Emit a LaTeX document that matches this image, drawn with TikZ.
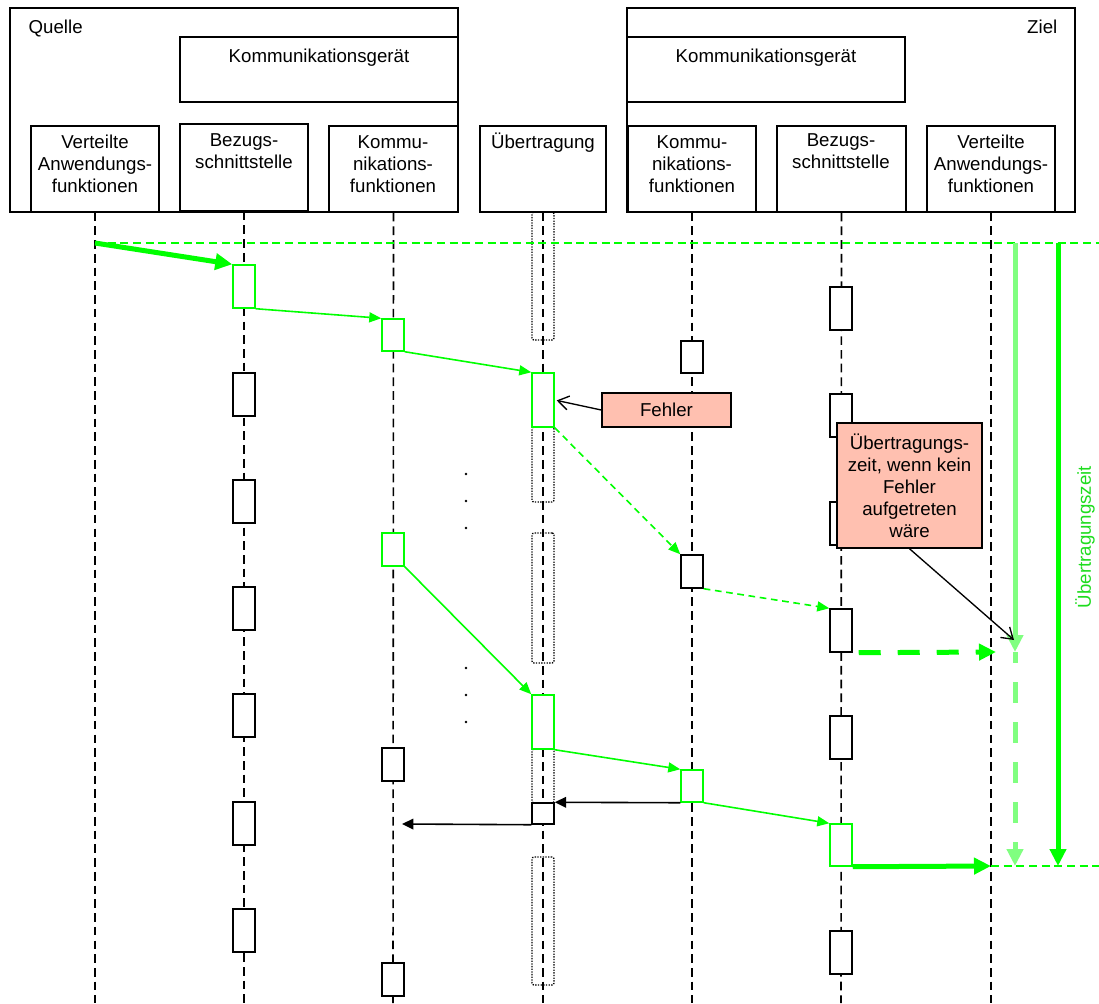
\documentclass[tikz,border=0pt]{standalone}
\usepackage{fontspec}
\setmainfont{Liberation Sans}
\usetikzlibrary{arrows.meta,fit}
\definecolor{gr}{RGB}{0,255,0}
\definecolor{lgr}{RGB}{128,255,128}
\definecolor{tgr}{RGB}{30,220,30}
\definecolor{salmon}{RGB}{255,192,176}

\begin{document}
\begin{tikzpicture}[x=0.75pt,y=-0.75pt,
  font=\fontsize{14pt}{16.5pt}\selectfont,
  frame/.style={draw, line width=0.8pt, inner sep=0pt},
  head/.style={draw, fill=white, line width=1pt, inner sep=0pt},
  headtext/.style={anchor=north, align=center, inner sep=0pt},
  life/.style={line width=1.2pt, dash pattern=on 6.5pt off 3.8pt},
  act/.style={draw, fill=white, line width=1.1pt, inner sep=0pt},
  actg/.style={act, draw=gr},
  slot/.style={draw, line width=1pt, dash pattern=on 1pt off 1pt, rounded corners=1.5pt, inner sep=0pt},
  msg/.style={draw=gr, line width=1.2pt, -{Triangle[length=9pt,width=7.5pt,fill=gr]}},
  msgd/.style={msg, dash pattern=on 5pt off 3.5pt},
  big/.style={draw=gr, line width=3.75pt, -{Triangle[length=12.75pt,width=12pt,fill=gr]}},
  back/.style={draw=black, line width=1.2pt, -{Triangle[length=8.5pt,width=8pt]}},
  note/.style={draw, fill=salmon, line width=1.1pt, align=center, inner sep=0pt},
  pointer/.style={draw=black, line width=1pt, -{Straight Barb[length=8pt,width=10.5pt]}},
  hline/.style={draw=gr, line width=1.2pt, dash pattern=on 6pt off 3.5pt}
]
\useasboundingbox (0,0) rectangle (1099,1003);

% ---- source and destination frames
\node[frame, fit={(10,8)(458,212)}] (quelle) {};
\node[frame, fit={(627,8)(1075,212)}] (ziel) {};
\node[anchor=base west] (tquelle) at (24,33) {Quelle};
\node[anchor=base east] (tziel) at (1062,33) {Ziel};

% ---- communication devices
\node[head, fit={(180,37)(458,102)}] (geraetL) {};
\node[head, fit={(627,37)(905,102)}] (geraetR) {};
\node[anchor=base] (tgeraetL) at (319,62) {Kommunikationsgerät};
\node[anchor=base] (tgeraetR) at (766,62) {Kommunikationsgerät};

% ---- column heads
\node[head, fit={(31,126)(159,212)}]  (hVL) {};
\node[head, fit={(180,124)(308,211)}] (hBL) {};
\node[head, fit={(329,126)(458,212)}] (hKL) {};
\node[head, fit={(480,126)(606,212)}] (hU)  {};
\node[head, fit={(628,126)(756,212)}] (hKR) {};
\node[head, fit={(777,126)(906,212)}] (hBR) {};
\node[head, fit={(927,126)(1055,212)}] (hVR) {};

\node[headtext] (tVL) at (95,134.6)  {Verteilte\\Anwendungs-\\funktionen};
\node[headtext] (tBL) at (244,133.2) {Bezugs-\\schnittstelle};
\node[headtext] (tKL) at (393,135.2) {Kommu-\\nikations-\\funktionen};
\node[anchor=base] (tU) at (543,148) {Übertragung};
\node[headtext] (tKR) at (692,135.2) {Kommu-\\nikations-\\funktionen};
\node[headtext] (tBR) at (841,133.2) {Bezugs-\\schnittstelle};
\node[headtext] (tVR) at (991,134.6) {Verteilte\\Anwendungs-\\funktionen};

% ---- lifelines
\foreach \n/\x in {VL/95,BL/244,KL/393,U/543,KR/692,BR/841,VR/991}{
  \coordinate (e\n) at (\x,1003);
  \draw[life] (h\n.south) -- (e\n);
}

% ---- transmission slots
\node[slot, fit={(532,212)(554,340)}] (slotA) {};
\node[slot, fit={(532,427)(554,502)}] (slotB) {};
\node[slot, fit={(532,533)(554,663)}] (slotC) {};
\node[slot, fit={(532,749)(554,803)}] (slotD) {};
\node[slot, fit={(532,857)(554,985)}] (slotE) {};

% ---- time reference lines
\coordinate (t0) at (95,243);
\coordinate (t0r) at (1099,243);
\coordinate (t1) at (991,866);
\coordinate (t1r) at (1099,866);
\draw[hline] (t0) -- (t0r);
\draw[hline] (t1) -- (t1r);

% ---- activations: Bezugsschnittstelle (source)
\node[actg, fit={(233,265)(255,308)}] (b1) {};
\foreach \i/\y in {2/373,3/480,4/587,5/694,6/802,7/909}
  \node[act, fit={(233,\y)(255,\y+43)}] (bl\i) {};
% Kommunikationsfunktionen (source)
\node[actg, fit={(382,319)(404,351)}] (k1) {};
\node[actg, fit={(382,533)(404,566)}] (k2) {};
\node[act, fit={(382,748)(404,781)}] (kl3) {};
\node[act, fit={(382,963)(404,996)}] (kl4) {};
% Uebertragung
\node[actg, fit={(532,373)(554,427)}] (u1) {};
\node[actg, fit={(532,695)(554,749)}] (u2) {};
\node[act, fit={(532,803)(554,824)}] (ublk) {};
% Kommunikationsfunktionen (destination)
\node[act, fit={(681,341)(703,373)}] (kr0) {};
\node[act, fit={(681,555)(703,588)}] (r1) {};
\node[actg, fit={(681,770)(703,802)}] (r2) {};
% Bezugsschnittstelle (destination)
\foreach \i/\y in {1/287,2/394,3/502,5/716,7/931}
  \node[act, fit={(830,\y)(852,\y+43)}] (br\i) {};
\node[act, fit={(830,609)(852,652)}] (s1) {};
\node[actg, fit={(830,824)(852,866)}] (s2) {};

% ---- omitted steps
\foreach \y in {474,501,528,668,695,722}
  \fill (466,\y) circle (1.1pt);

% ---- message flow
\draw[big] (t0) -- (b1.north west);
\draw[msg] (b1.south east) -- (k1.north west);
\draw[msg] (k1.south east) -- (u1.north west);
\draw[msgd] (u1.south east) -- (r1.north west);
\draw[msgd] (r1.south east) -- (s1.north west);
\coordinate (s1end) at (996,652);
\draw[big, dash pattern=on 16.5pt off 12.75pt, shorten <=4.5pt] (s1.south east) -- (s1end);

\draw[msg] (k2.south east) -- (u2.north west);
\draw[msg] (u2.south east) -- (r2.north west);
\draw[msg] (r2.south east) -- (s2.north west);
\draw[big] (s2.south east) -- (t1);

\coordinate (kback) at (402,824);
\draw[back] (r2.south west) -- (ublk.north east);
\draw[back] (ublk.south west) -- (kback);

% ---- transmission time
\coordinate (lt) at (1015,243);
\coordinate (lm) at (1015,652);
\coordinate (lb) at (1015,866);
\draw[big, draw=lgr, -{Triangle[length=12.75pt,width=12pt,fill=lgr]}] (lt) -- (lm);
\draw[big, draw=lgr, -{Triangle[length=12.75pt,width=12pt,fill=lgr]}, dash pattern=on 15.75pt off 14.25pt, dash phase=7.5pt] (lm) -- (lb);
\coordinate (dt) at (1058,243);
\coordinate (db) at (1058,866);
\draw[big] (dt) -- (db);
\node[rotate=90, text=tgr] (tzeit) at (1085,537) {Übertragungszeit};

% ---- notes
\node[note, minimum width=96.75pt, minimum height=25.5pt] (fehler) at (666.5,410) {Fehler};
\draw[pointer, shorten >=1.5pt] (fehler.west) -- (u1.east);
\node[note, minimum width=108.75pt, minimum height=93.75pt] (ohne) at (909.5,485.5)
  {Übertragungs-\\zeit, wenn kein\\Fehler\\aufgetreten\\wäre};
\coordinate (hit) at (1014,640);
\draw[pointer] (ohne.south) -- (hit);
\end{tikzpicture}
\end{document}
